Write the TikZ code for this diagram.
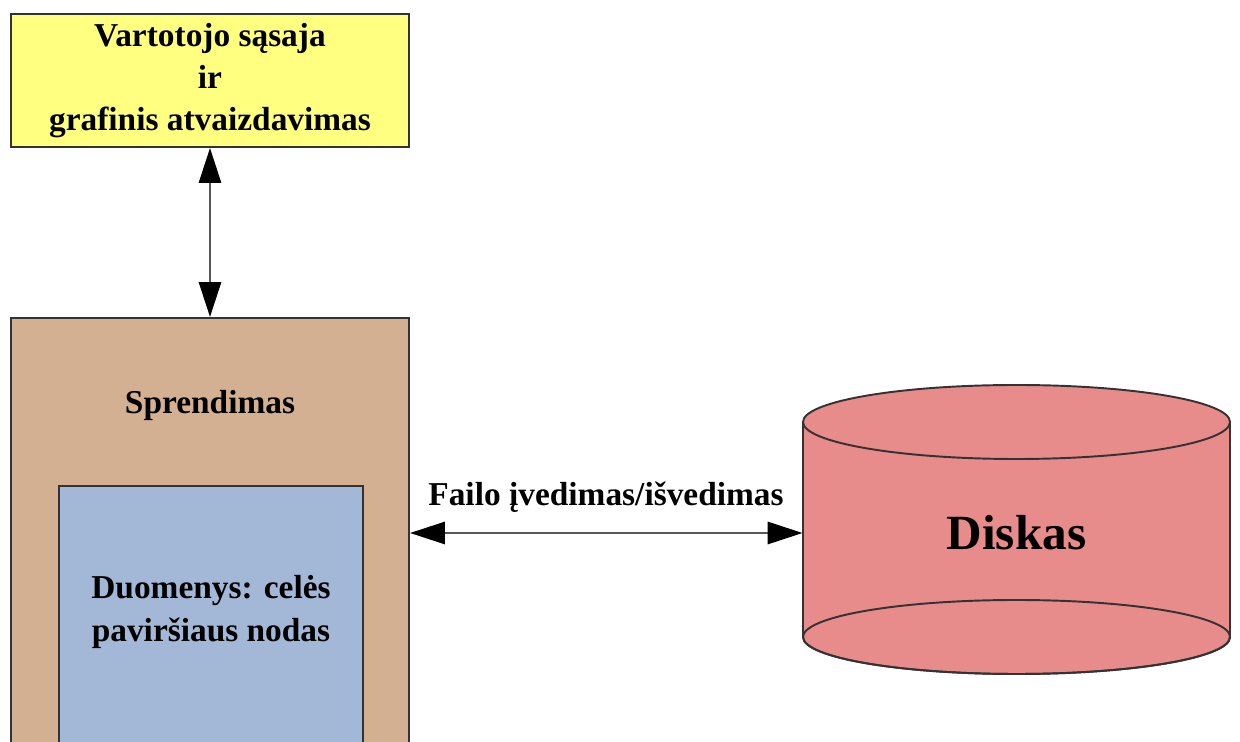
\documentclass[tikz,border=0pt]{standalone}
\usepackage{fontspec}
\setmainfont{Liberation Serif}
\usetikzlibrary{arrows.meta,positioning}
\definecolor{camarillo}{HTML}{FFFF80}
\definecolor{cmarron}{HTML}{D3B092}
\definecolor{cazul}{HTML}{A3B8D6}
\definecolor{cdisco}{HTML}{E88B8B}
\definecolor{cborde}{HTML}{333333}
\definecolor{cflecha}{HTML}{585858}
\tikzset{
  caja/.style={draw=cborde,line width=1.1pt,align=center,inner sep=0pt,
               font=\bfseries\fontsize{19}{24}\selectfont},
  cajau/.style={caja,fill=camarillo},
  cajas/.style={caja,fill=cmarron},
  cajad/.style={caja,fill=cazul},
  et/.style={font=\bfseries\fontsize{19}{24}\selectfont,inner sep=1pt,align=center},
  disco/.style={draw=cborde,line width=1.1pt,fill=cdisco},
  flecha/.style={{Triangle[length=7mm,width=4.4mm,color=black]}-{Triangle[length=7mm,width=4.4mm,color=black]},
                 draw=cflecha,line width=1.7pt},
}

\begin{document}
\begin{tikzpicture}[x=1cm,y=1cm]
\useasboundingbox (0,0) rectangle (24.8,14.84);
\clip (0,0) rectangle (24.8,14.84);

\node[cajau,minimum width=7.96cm,minimum height=2.66cm] (ui) at (4.2,13.23)
  {Vartotojo sąsaja\\ir\\grafinis atvaizdavimas};

\node[cajas,minimum width=7.96cm,minimum height=9.6cm] (sprend) at (4.2,3.68) {};
\node[et] (sprtit) at (4.2,6.74) {Sprendimas};
\node[cajad,minimum width=6.08cm,minimum height=5.6cm] (duom) at (4.22,2.32) {};
\node[et] (duomt) at (4.22,2.6) {Duomenys: celės\\paviršiaus nodas};

\filldraw[disco] (16.06,6.4) -- (16.06,2.1)
  arc[start angle=180,end angle=360,x radius=4.27,y radius=0.74] -- (24.6,6.4) -- cycle;
\draw[disco] (20.33,6.4) ellipse[x radius=4.27,y radius=0.74];
\draw[cborde,line width=1.1pt] (20.33,2.1) ellipse[x radius=4.27,y radius=0.74];
\node[minimum width=8.54cm,inner sep=0pt,font=\bfseries\fontsize{28}{32}\selectfont] (disk) at (20.33,4.18) {Diskas};

\draw[flecha] (ui.south) -- (sprend.north);
\draw[flecha] (disk.west -| sprend.east) -- (disk.west);
\node[et] (fio) at (12.12,4.9) {Failo įvedimas/išvedimas};

\end{tikzpicture}
\end{document}
